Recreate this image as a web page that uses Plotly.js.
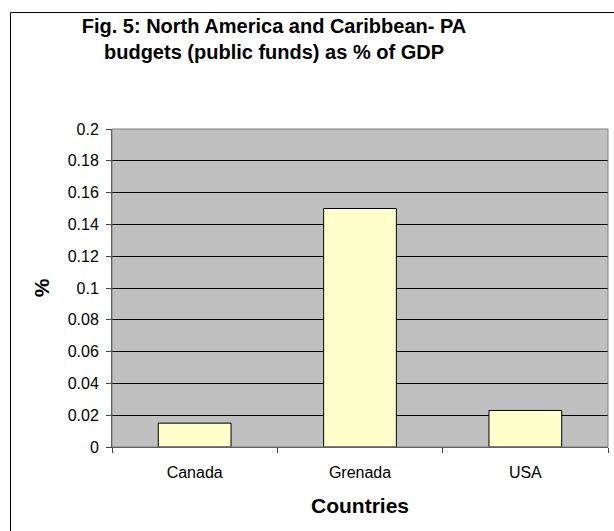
<!DOCTYPE html>
<html>
<head>
<meta charset="utf-8">
<script src="https://cdn.plot.ly/plotly-3.0.1.min.js"></script>
<style>
  html, body { margin: 0; padding: 0; background: #fff; }
  #chart { width: 614px; height: 531px; }
</style>
</head>
<body>
<div id="chart"></div>
<script>
// PA budgets (public funds) as a share of GDP, by country
const countries = ["Canada", "Grenada", "USA"];
const budgetPctGdp = [0.015, 0.15, 0.023];
const yTickValues = [0, 0.02, 0.04, 0.06, 0.08, 0.1, 0.12, 0.14, 0.16, 0.18, 0.2];

const W = 614, H = 531;
const M = { l: 112, r: 6, t: 129, b: 84 };
const plotW = W - M.l - M.r, plotH = H - M.t - M.b;
// convert page pixels to paper coordinates for the frame around the chart
const px = x => (x - M.l) / plotW;
const py = y => (H - M.b - y) / plotH;

const trace = {
  type: "bar",
  x: countries,
  y: budgetPctGdp,
  marker: { color: "#FFFFCC", line: { color: "#000000", width: 1 } },
  hoverinfo: "x+y"
};

const layout = {
  width: W, height: H,
  margin: M,
  paper_bgcolor: "#ffffff",
  plot_bgcolor: "#C0C0C0",
  bargap: 0.56,
  showlegend: false,
  font: { family: "Liberation Sans, Arial, sans-serif", color: "#000" },
  title: {
    text: "<b>Fig. 5: North America and Caribbean- PA<br>budgets (public funds) as % of GDP</b>",
    font: { family: "Liberation Sans, Arial, sans-serif", size: 20, color: "#000" },
    xref: "paper", x: px(274), xanchor: "center",
    yref: "container", y: 1 - 33 / H, yanchor: "top"
  },
  xaxis: {
    type: "category",
    tickson: "boundaries",
    ticks: "outside", ticklen: 5, tickcolor: "#404040",
    showline: true, linecolor: "#404040", linewidth: 1,
    showgrid: false, zeroline: false,
    tickfont: { size: 16 },
    ticklabelstandoff: 11,
    title: {
      text: "<b>Countries</b>",
      font: { size: 21 },
      standoff: 18
    }
  },
  yaxis: {
    range: [0, 0.2],
    tickvals: yTickValues,
    ticks: "outside", ticklen: 5, tickcolor: "#404040",
    showline: true, linecolor: "#404040", linewidth: 1,
    showgrid: true, gridcolor: "#000000", gridwidth: 1,
    zeroline: false,
    tickfont: { size: 16 },
    ticklabelstandoff: 4,
    title: {
      text: "<b>%</b>",
      font: { size: 21 },
      standoff: 12
    }
  },
  shapes: [
    // grey frame on the top and right of the plot area
    { type: "rect", xref: "paper", yref: "paper", x0: 0, x1: 1, y0: 0, y1: 1,
      line: { color: "#808080", width: 1 }, layer: "above" },
    // outer chart border
    { type: "rect", xref: "paper", yref: "paper",
      x0: px(10.5), x1: px(640), y0: py(560), y1: py(12.5),
      line: { color: "#000000", width: 1 }, layer: "below" }
  ]
};

Plotly.newPlot("chart", [trace], layout, { displayModeBar: false, staticPlot: true });
</script>
</body>
</html>
